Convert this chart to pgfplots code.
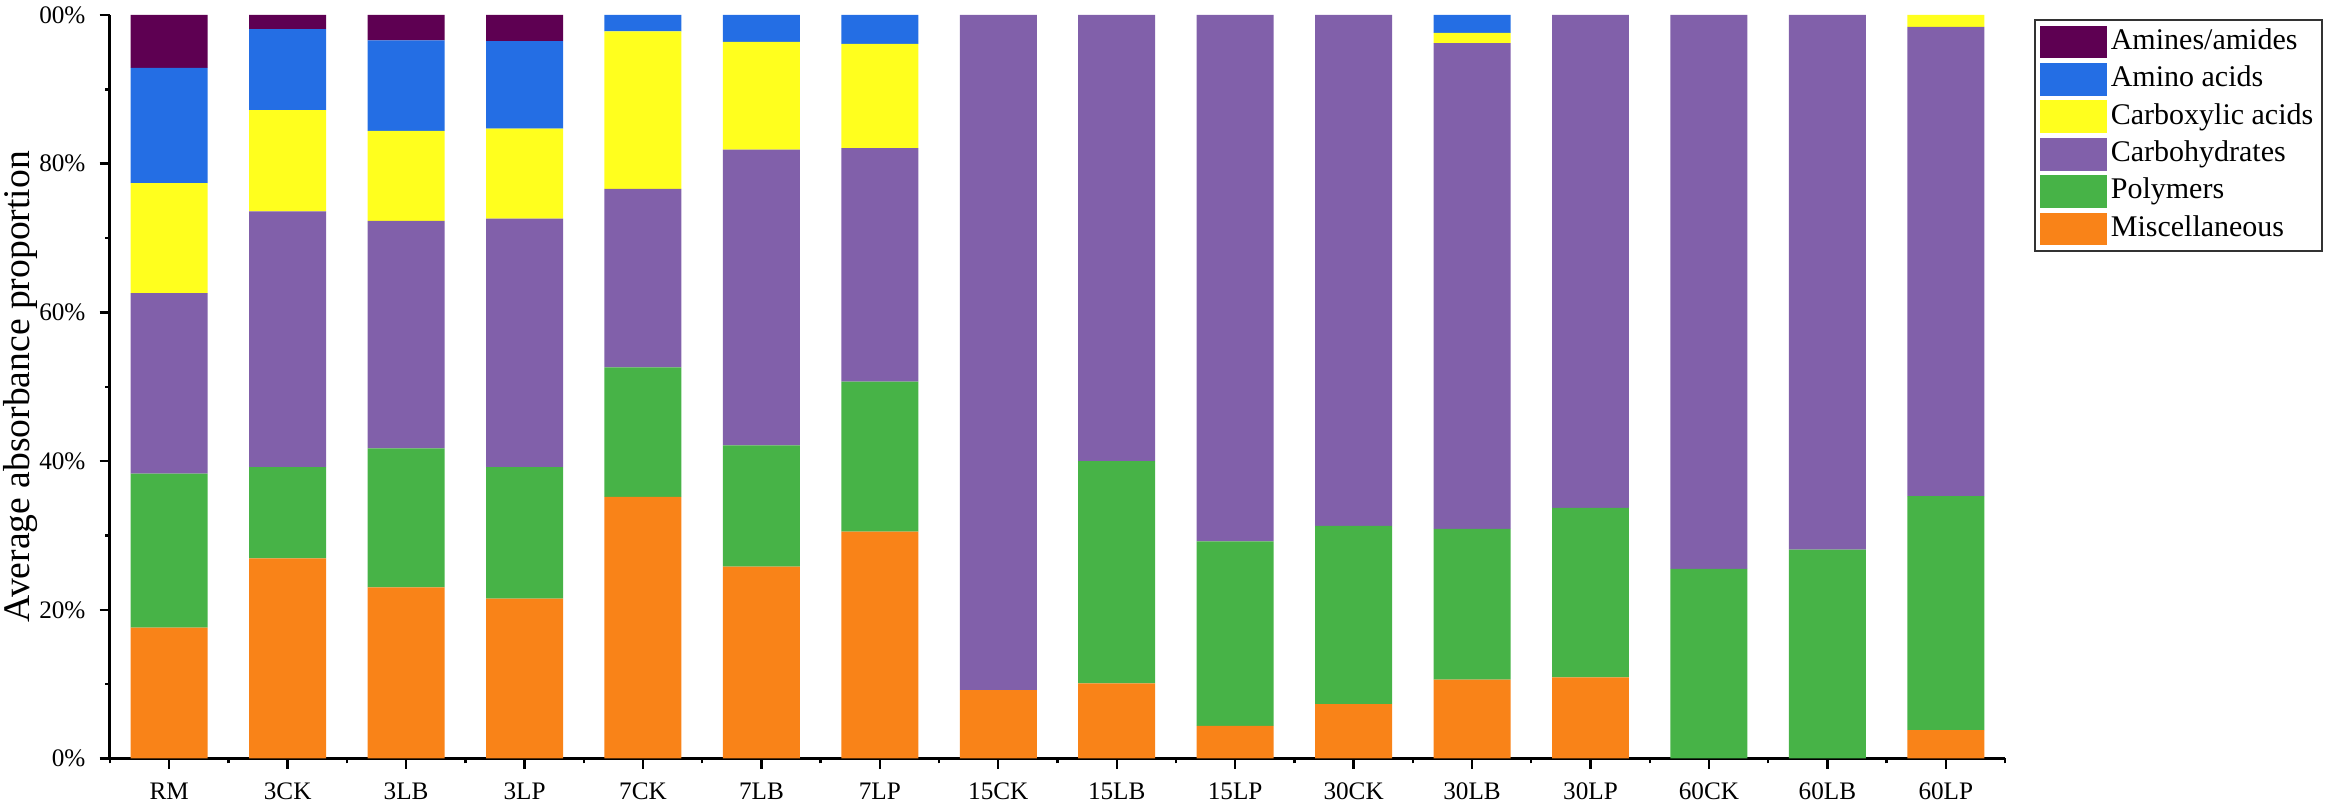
\documentclass[border=0pt]{standalone}
\usepackage{pgfplots}
\pgfplotsset{compat=1.18}
\usepackage{pgfplotstable}
\usepackage{fontspec}
\setmainfont{Liberation Serif}

\definecolor{cAmines}{HTML}{5E0052}
\definecolor{cAmino}{HTML}{246EE4}
\definecolor{cCarbox}{HTML}{FFFF1E}
\definecolor{cCarb}{HTML}{8160AA}
\definecolor{cPoly}{HTML}{47B347}
\definecolor{cMisc}{HTML}{F98318}

\pgfplotstableread{
idx cat Misc Poly Carb Carbox Amino Amines
0 RM 17.6 20.7 24.3 14.8 15.5 7.1
1 3CK 26.9 12.3 34.4 13.6 10.9 1.9
2 3LB 23.0 18.7 30.6 12.1 12.2 3.4
3 3LP 21.5 17.7 33.4 12.1 11.8 3.5
4 7CK 35.2 17.4 24.0 21.2 2.2 0
5 7LB 25.8 16.3 39.8 14.5 3.6 0
6 7LP 30.5 20.2 31.4 14.0 3.9 0
7 15CK 9.2 0 90.8 0 0 0
8 15LB 10.1 29.9 60.0 0 0 0
9 15LP 4.4 24.8 70.8 0 0 0
10 30CK 7.3 24.0 68.7 0 0 0
11 30LB 10.6 20.3 65.3 1.4 2.4 0
12 30LP 10.9 22.8 66.3 0 0 0
13 60CK 0 25.5 74.5 0 0 0
14 60LB 0 28.1 71.9 0 0 0
15 60LP 3.8 31.5 63.1 1.6 0 0
}\datatable

\begin{document}
\begin{tikzpicture}
\begin{axis}[
  at={(0pt,0pt)}, anchor=south west,
  scale only axis, width=473.75pt, height=185.875pt,
  ybar stacked, bar width=0.65,
  xmin=-0.5, xmax=15.5, ymin=0, ymax=100,
  axis lines=left,
  axis line style={line width=0.75pt,-},
  xtick={0,...,15},
  xticklabels={RM,3CK,3LB,3LP,7CK,7LB,7LP,15CK,15LB,15LP,30CK,30LB,30LP,60CK,60LB,60LP},
  minor xtick={-0.5,0.5,...,15.5},
  ytick={0,20,40,60,80,100},
  yticklabels={0\%,20\%,40\%,60\%,80\%,00\%},
  minor ytick={10,30,50,70,90},
  tick align=outside,
  major tick length=2.6pt, minor tick length=1.2pt,
  every tick/.style={line width=0.6pt, black},
  ticklabel style={font=\fontsize{6.3}{7}\selectfont},
  ylabel={Average absorbance proportion},
  ylabel style={font=\fontsize{9.4}{11}\selectfont, at={(axis description cs:-0.0427,0.5)}, anchor=base, rotate=0},
  legend image code/.code={\fill[#1] (0pt,-4.1pt) rectangle (16.75pt,4.1pt);},
  reverse legend,
  legend cell align=left,
  legend style={at={(1.0153,0.9946)}, anchor=north west, draw=black!80, line width=0.5pt,
    font=\fontsize{7.5}{9}\selectfont, inner xsep=1.2pt, inner ysep=0.8pt,
    row sep=0pt,
    nodes={inner xsep=1pt, inner ysep=0pt, minimum height=9.35pt}},
]
\addplot[fill=cMisc, draw=none] table[x=idx, y=Misc] {\datatable};
\addlegendentry{Miscellaneous}
\addplot[fill=cPoly, draw=none] table[x=idx, y=Poly] {\datatable};
\addlegendentry{Polymers}
\addplot[fill=cCarb, draw=none] table[x=idx, y=Carb] {\datatable};
\addlegendentry{Carbohydrates}
\addplot[fill=cCarbox, draw=none] table[x=idx, y=Carbox] {\datatable};
\addlegendentry{Carboxylic acids}
\addplot[fill=cAmino, draw=none] table[x=idx, y=Amino] {\datatable};
\addlegendentry{Amino acids}
\addplot[fill=cAmines, draw=none] table[x=idx, y=Amines] {\datatable};
\addlegendentry{Amines/amides}
\end{axis}
\pgfresetboundingbox
\path[use as bounding box] (-27.5pt,-10.875pt) rectangle (555pt,189.625pt);
\end{tikzpicture}
\end{document}
